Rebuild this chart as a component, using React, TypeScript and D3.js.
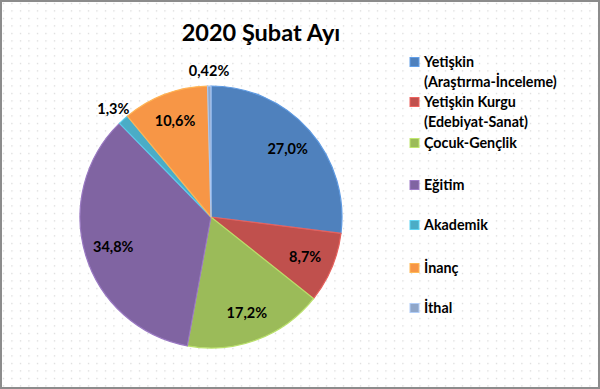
import React from "react";
import * as d3 from "d3";

const categories = [
  "Yetişkin (Araştırma-İnceleme)",
  "Yetişkin Kurgu (Edebiyat-Sanat)",
  "Çocuk-Gençlik",
  "Eğitim",
  "Akademik",
  "İnanç",
  "İthal",
];
const values = [27.0, 8.7, 17.2, 34.8, 1.3, 10.6, 0.42];
const valueLabels = ["27,0%", "8,7%", "17,2%", "34,8%", "1,3%", "10,6%", "0,42%"];
const legendLines = [
  ["Yetişkin", "(Araştırma-İnceleme)"],
  ["Yetişkin Kurgu", "(Edebiyat-Sanat)"],
  ["Çocuk-Gençlik"],
  ["Eğitim"],
  ["Akademik"],
  ["İnanç"],
  ["İthal"],
];
const colors = ["#4F81BD", "#C0504D", "#9BBB59", "#8064A2", "#4BACC6", "#F79646", "#8FA6C9"];
const title = "2020 Şubat Ayı";

const W = 600;
const H = 389;
const cx = 211;
const cy = 217;
const R = 131;
const FONT = "Lato, 'Open Sans', sans-serif";

export default function App() {
  const pie = d3.pie<number>().sort(null).value((d) => d)(values);
  const arc = d3.arc<d3.PieArcDatum<number>>().innerRadius(0).outerRadius(R);
  const legendY = [62, 102, 143, 185, 225, 268, 308];

  return (
    <svg
      width={W}
      height={H}
      style={{ position: "absolute", left: 0, top: 0 }}
      fontFamily={FONT}
    >
      <defs>
        <pattern id="dots" width={8.5} height={7.5} patternUnits="userSpaceOnUse">
          <rect x={3} y={3} width={1} height={1} fill="#bdbdbd" />
        </pattern>
      </defs>
      <rect x={0} y={0} width={W} height={H} fill="#ffffff" />
      <rect x={0} y={0} width={W} height={H} fill="url(#dots)" />
      <rect x={1} y={1} width={W - 2} height={H - 2} fill="none" stroke="#8c8c8c" strokeWidth={2} />

      <text x={261} y={41} textAnchor="middle" fontSize={23.5} fontWeight="bold" fill="#000">
        {title}
      </text>

      <g>
        {pie.map((p, i) => (
          <path
            key={i}
            d={arc(p) || ""}
            transform={`translate(${cx},${cy})`}
            fill={colors[i]}
            stroke={d3.color(colors[i])!.brighter(0.5).formatHex()}
            strokeWidth={1.2}
          />
        ))}
      </g>
      <g>
        {pie.map((p, i) => {
          const mid = (p.startAngle + p.endAngle) / 2;
          const rr = values[i] < 2 ? R + 15 : R * 0.78;
          const x = cx + Math.sin(mid) * rr;
          const y = cy - Math.cos(mid) * rr;
          return (
            <text
              key={i}
              x={x}
              y={y}
              dy="0.35em"
              textAnchor="middle"
              fontSize={14.5}
              fontWeight="bold"
              fill="#000"
            >
              {valueLabels[i]}
            </text>
          );
        })}
      </g>
      <g>
        {categories.map((c, i) => (
          <g key={c}>
            <rect
              x={410}
              y={legendY[i] - 4.5}
              width={9}
              height={9}
              fill={colors[i]}
              stroke={d3.color(colors[i])!.brighter(0.6).formatHex()}
              strokeWidth={1}
            />
            {legendLines[i].map((line, j) => (
              <text
                key={j}
                x={424}
                y={legendY[i] + j * 19.5}
                dy="0.35em"
                fontSize={14.3}
                fontWeight="bold"
                fill="#000"
              >
                {line}
              </text>
            ))}
          </g>
        ))}
      </g>
    </svg>
  );
}
